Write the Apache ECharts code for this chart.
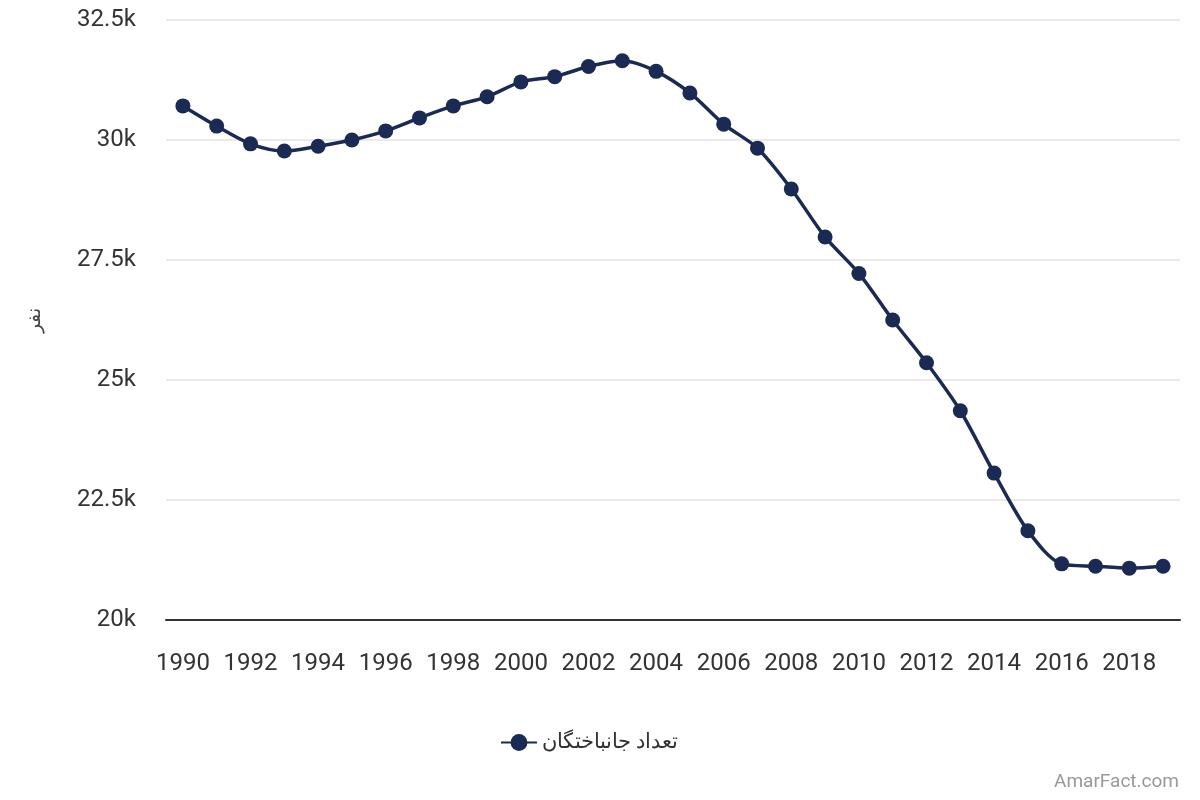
<!DOCTYPE html>
<html>
<head>
<meta charset="utf-8">
<script src="https://cdn.jsdelivr.net/npm/echarts@6/dist/echarts.min.js"></script>
<style>
  html, body { margin: 0; padding: 0; background: #fff; }
  #chart { width: 1200px; height: 800px; }
</style>
</head>
<body>
<div id="chart"></div>
<script>
// سال ها
var years = ['1990','1991','1992','1993','1994','1995','1996','1997','1998','1999',
             '2000','2001','2002','2003','2004','2005','2006','2007','2008','2009',
             '2010','2011','2012','2013','2014','2015','2016','2017','2018','2019'];
// تعداد جانباختگان (نفر)
var deaths = [30710, 30290, 29920, 29770, 29870, 30000, 30190, 30460, 30710, 30900,
              31210, 31320, 31530, 31650, 31430, 30980, 30330, 29830, 28980, 27980,
              27220, 26250, 25360, 24360, 23060, 21860, 21170, 21120, 21080, 21120];
var yTicks = [20000, 22500, 25000, 27500, 30000, 32500];

var chart = echarts.init(document.getElementById('chart'));
var option = {
    backgroundColor: '#fff',
    textStyle: { fontFamily: 'Roboto, "Noto Sans", sans-serif' },
    grid: { left: 166, right: 20, top: 20, bottom: 180 },
    xAxis: {
        type: 'category',
        data: years,
        boundaryGap: true,
        axisLine: { lineStyle: { color: '#333', width: 2 } },
        axisTick: { show: false },
        axisLabel: { interval: 1, color: '#333', fontSize: 24, margin: 32 }
    },
    yAxis: {
        type: 'value',
        min: yTicks[0],
        max: yTicks[yTicks.length - 1],
        interval: 2500,
        name: 'نفر',
        nameLocation: 'middle',
        nameGap: 122,
        nameTextStyle: { color: '#444', fontSize: 19, fontFamily: '"Noto Sans", sans-serif' },
        axisLine: { show: false },
        axisTick: { show: false },
        splitLine: { lineStyle: { color: '#e3e3e3', width: 1.5 } },
        axisLabel: {
            color: '#333',
            fontSize: 24,
            margin: 30,
            formatter: function (v) { return (v / 1000) + 'k'; }
        }
    },
    legend: {
        bottom: 42,
        left: 495,
        itemWidth: 36,
        itemHeight: 21,
        itemGap: 10,
        textStyle: { color: '#333', fontSize: 21, fontFamily: '"Noto Sans", sans-serif' },
        data: ['تعداد جانباختگان']
    },
    series: [
        {
            name: 'تعداد جانباختگان',
            type: 'line',
            smooth: 0.3,
            data: deaths,
            symbol: 'circle',
            symbolSize: 15,
            lineStyle: { color: '#1b2a52', width: 3.5 },
            itemStyle: { color: '#1b2a52' }
        }
    ],
    graphic: [
        {
            type: 'text',
            right: 21,
            bottom: 8,
            style: { text: 'AmarFact.com', fill: '#999', fontSize: 19, fontFamily: 'Roboto, sans-serif' }
        }
    ]
};
chart.setOption(option);
</script>
</body>
</html>
